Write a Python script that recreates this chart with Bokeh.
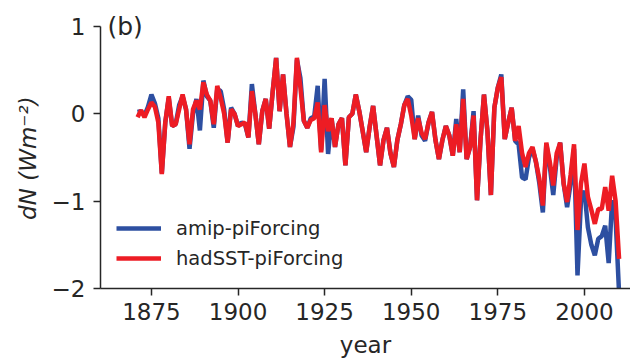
from bokeh.plotting import figure
from bokeh.models import Range1d, Legend, LegendItem, Label, FixedTicker
from bokeh.embed import file_html
from bokeh.resources import INLINE

years = list(range(1871, 2011))
amip = [0.02, 0.03, -0.02, 0.08, 0.22, 0.12, -0.05, -0.68, -0.10, 0.18,
        -0.14, -0.12, 0.10, 0.20, 0.05, -0.40, 0.0, 0.17, -0.19, 0.38,
        0.20, 0.15, -0.16, 0.28, 0.26, 0.05, -0.33, 0.07, 0.0, -0.14,
        -0.10, -0.12, -0.27, 0.34, 0.0, -0.35, 0.03, 0.17, -0.17, 0.25,
        0.64, 0.03, 0.45, 0.0, -0.38, -0.15, 0.62, 0.41, -0.08, -0.16,
        -0.05, -0.03, 0.32, -0.42, 0.40, -0.46, -0.05, -0.38, -0.12, -0.05,
        -0.59, -0.04, 0.0, 0.22, 0.03, -0.20, -0.44, -0.15, 0.09, -0.25,
        -0.59, -0.30, -0.16, -0.45, -0.61, -0.30, -0.12, 0.10, 0.20, 0.16,
        -0.29, -0.02, -0.25, -0.31, -0.10, 0.02, -0.30, -0.52, -0.30, -0.14,
        -0.25, -0.48, -0.06, -0.44, 0.28, -0.52, -0.38, 0.03, -0.99, -0.30,
        0.22, -0.20, -0.93, 0.07, 0.30, 0.45, -0.29, -0.10, 0.07, -0.31,
        -0.35, -0.73, -0.75, -0.50, -0.40, -0.55, -0.80, -1.13, -0.35, -0.60,
        -0.93, -0.50, -0.33, -0.80, -1.07, -0.80, -0.40, -1.85, -1.00, -0.88,
        -1.30, -1.50, -1.62, -1.43, -1.40, -1.28, -1.71, -0.99, -1.20, -2.05]
hadsst = [-0.04, 0.04, -0.04, 0.05, 0.13, 0.08, -0.10, -0.69, -0.10, 0.20,
          -0.14, -0.12, 0.05, 0.22, 0.05, -0.35, 0.05, 0.15, 0.05, 0.36,
          0.22, 0.15, -0.12, 0.32, 0.18, 0.0, -0.33, 0.05, 0.0, -0.14,
          -0.12, -0.10, -0.27, 0.26, 0.0, -0.35, 0.03, 0.17, -0.17, 0.25,
          0.64, 0.03, 0.45, 0.0, -0.38, -0.10, 0.64, 0.30, -0.08, -0.16,
          -0.07, -0.05, 0.13, -0.44, 0.10, -0.20, -0.05, -0.38, -0.12, -0.05,
          -0.59, -0.04, 0.0, 0.22, 0.03, -0.20, -0.44, -0.15, 0.09, -0.25,
          -0.59, -0.30, -0.16, -0.45, -0.61, -0.30, -0.12, 0.10, 0.17, -0.02,
          -0.29, -0.05, -0.22, -0.29, -0.10, 0.02, -0.30, -0.52, -0.30, -0.14,
          -0.25, -0.48, -0.12, -0.44, 0.17, -0.52, -0.38, -0.02, -0.99, -0.30,
          0.22, -0.20, -0.93, 0.07, 0.30, 0.42, -0.29, -0.10, 0.07, -0.31,
          -0.14, -0.45, -0.61, -0.45, -0.38, -0.55, -0.75, -1.05, -0.33, -0.55,
          -0.82, -0.45, -0.33, -0.80, -1.01, -0.70, -0.35, -1.33, -0.80, -0.57,
          -0.95, -1.10, -1.26, -1.09, -1.09, -0.84, -1.11, -0.71, -1.00, -1.66]

x_ticks = [1875, 1900, 1925, 1950, 1975, 2000]
y_ticks = [-2, -1, 0, 1]
y_tick_labels = {-2: "\u22122", -1: "\u22121", 0: "0", 1: "1"}

BLUE = "#2d4fa1"
RED = "#ed1c24"
INK = "#262626"

p = figure(width=630, height=360, output_backend="svg", toolbar_location=None,
           x_range=Range1d(1860.3, 2013.3), y_range=Range1d(-2, 1.2053),
           min_border_left=100, min_border_right=0, min_border_top=8,
           min_border_bottom=71)
p.outline_line_color = None
p.xgrid.visible = False
p.ygrid.visible = False
p.background_fill_color = "white"
p.border_fill_color = "white"

lb = p.line(years, amip, line_color=BLUE, line_width=4.5)
lr = p.line(years, hadsst, line_color=RED, line_width=4.5)

for ax in (p.xaxis[0], p.yaxis[0]):
    ax.axis_line_color = INK
    ax.axis_line_width = 1.5
    ax.major_tick_line_color = INK
    ax.major_tick_line_width = 1.5
    ax.major_tick_out = 7
    ax.major_tick_in = 0
    ax.minor_tick_line_color = None
    ax.major_label_text_font = "DejaVu Sans"
    ax.major_label_text_font_size = "23px"
    ax.major_label_text_color = INK
    ax.axis_label_text_font = "DejaVu Sans"
    ax.axis_label_text_font_size = "23px"
    ax.axis_label_text_color = INK

p.xaxis.ticker = FixedTicker(ticks=x_ticks)
p.yaxis.ticker = FixedTicker(ticks=y_ticks)
p.yaxis.bounds = (-2, 1)
p.yaxis.major_label_overrides = y_tick_labels
p.xaxis.axis_label = "year"
p.xaxis.axis_label_text_font_style = "normal"
p.xaxis.major_label_standoff = 7
p.xaxis.axis_label_standoff = 9
# trailing non-breaking spaces centre the label on the visible spine (-2..1)
p.yaxis.axis_label = "dN (Wm\u207b\u00b2)\u00a0\u00a0\u2009"
p.yaxis.axis_label_text_font_style = "italic"
p.yaxis.major_label_standoff = 8
p.yaxis.axis_label_standoff = 8

legend = Legend(items=[LegendItem(label="amip-piForcing", renderers=[lb]),
                       LegendItem(label="hadSST-piForcing", renderers=[lr])],
                location=(16, 15), padding=0, margin=0, spacing=0,
                glyph_width=45, glyph_height=30, label_height=30,
                label_standoff=15, border_line_color=None,
                background_fill_alpha=0,
                label_text_font="DejaVu Sans", label_text_font_size="19.5px",
                label_text_color=INK)
p.add_layout(legend, "center")

p.add_layout(Label(x=1862.3, y=1.004, text="(b)", text_font="DejaVu Sans",
                   text_font_size="25px", text_color=INK,
                   text_baseline="alphabetic", text_align="left"))

open("out.html", "w").write(file_html(p, INLINE))
